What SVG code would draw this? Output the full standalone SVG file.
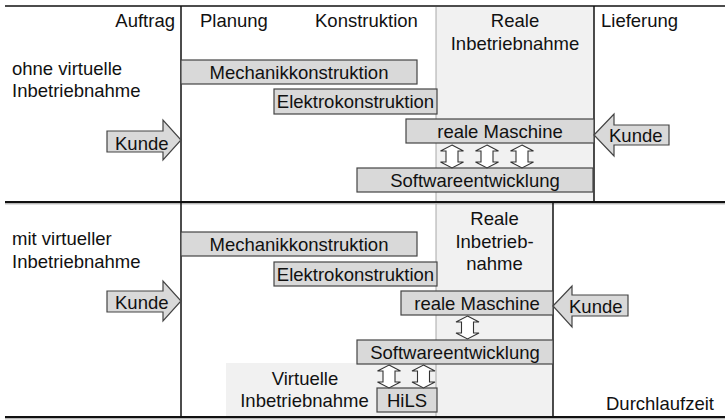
<svg xmlns="http://www.w3.org/2000/svg" width="726" height="420" viewBox="0 0 726 420">
<style>
text{font-family:"Liberation Sans",Arial,sans-serif;font-size:18.5px;fill:#111}
.m{text-anchor:middle}
.e{text-anchor:end}
.box{fill:#d9d9d9;stroke:#444;stroke-width:1.2}
.shade{fill:#f1f1f1}
.gl{stroke:#a8a8a8;stroke-width:1}
.bl{stroke:#111;stroke-width:1.5}
.kunde{fill:#d9d9d9;stroke:#444;stroke-width:1.2}
.dbl{fill:#fff;stroke:#333;stroke-width:1.1}
</style>
<defs>
<path id="darr" d="M0,0 L11.5,6 L6,6 L6,17 L11.5,17 L0,23 L-11.5,17 L-6,17 L-6,6 L-11.5,6 Z"/>
</defs>
<rect width="726" height="420" fill="#fff"/>
<g id="shading">
<rect class="shade" x="436" y="7" width="158" height="195"/>
<rect class="shade" x="436" y="204" width="117" height="212"/>
<rect class="shade" x="226" y="363" width="210" height="53"/>
<line class="gl" x1="436" y1="7" x2="436" y2="202"/>
<line class="gl" x1="436" y1="204" x2="436" y2="416"/>
</g>
<g id="frame">
<line class="bl" x1="5" y1="6" x2="725" y2="6"/>
<line x1="5" y1="202" x2="725" y2="202" stroke="#111" stroke-width="2"/>
<line x1="5" y1="203.8" x2="725" y2="203.8" stroke="#999" stroke-width="1"/>
<line x1="5" y1="417" x2="725" y2="417" stroke="#111" stroke-width="2"/>
<line x1="5" y1="418.8" x2="725" y2="418.8" stroke="#999" stroke-width="1"/>
<line class="bl" x1="181" y1="6" x2="181" y2="417"/>
<line class="bl" x1="594" y1="6" x2="594" y2="202"/>
<line class="bl" x1="553" y1="203" x2="553" y2="417"/>
</g>
<g id="headers">
<text class="e" x="175" y="27">Auftrag</text>
<text x="200" y="27">Planung</text>
<text x="315" y="27">Konstruktion</text>
<text class="m" x="515" y="27">Reale</text>
<text class="m" x="515" y="50">Inbetriebnahme</text>
<text x="601" y="27">Lieferung</text>
</g>
<g id="label-ohne">
<text x="12" y="75">ohne virtuelle</text>
<text x="12" y="97">Inbetriebnahme</text>
</g>
<g id="label-mit">
<text x="12" y="245">mit virtueller</text>
<text x="12" y="268">Inbetriebnahme</text>
</g>
<g id="mech1"><rect class="box" x="181" y="60" width="236" height="24"/><text class="m" x="299" y="78.5">Mechanikkonstruktion</text></g>
<g id="elektro1"><rect class="box" x="274" y="89" width="163" height="25"/><text class="m" x="355.5" y="108">Elektrokonstruktion</text></g>
<g id="maschine1"><rect class="box" x="406" y="119" width="188" height="24"/><text class="m" x="500" y="137.5">reale Maschine</text></g>
<g id="software1"><rect class="box" x="357" y="168" width="236" height="24"/><text class="m" x="475" y="186.5">Softwareentwicklung</text></g>
<g id="kunde1"><polygon class="kunde" points="107,131 163,131 163,120 181,140 163,160 163,152 107,152"/><text x="115" y="150">Kunde</text></g>
<g id="kunde2"><polygon class="kunde" points="594,135 614,114 614,125 669,125 669,145 614,145 614,156"/><text x="609" y="142">Kunde</text></g>
<g id="mech2"><rect class="box" x="181" y="232" width="236" height="24"/><text class="m" x="299" y="250.5">Mechanikkonstruktion</text></g>
<g id="elektro2"><rect class="box" x="274" y="262" width="163" height="24"/><text class="m" x="355.5" y="280.5">Elektrokonstruktion</text></g>
<g id="reale2">
<text class="m" x="494.5" y="225">Reale</text>
<text class="m" x="494.5" y="247.5">Inbetrieb-</text>
<text class="m" x="494.5" y="270">nahme</text>
</g>
<g id="maschine2"><rect class="box" x="401" y="291" width="152" height="24"/><text class="m" x="477" y="309.5">reale Maschine</text></g>
<g id="software2"><rect class="box" x="357" y="340" width="196" height="24"/><text class="m" x="455" y="358.5">Softwareentwicklung</text></g>
<g id="virtuell">
<text class="m" x="305" y="385">Virtuelle</text>
<text class="m" x="304.5" y="407">Inbetriebnahme</text>
</g>
<g id="hils"><rect class="box" x="377" y="388" width="60" height="24"/><text class="m" x="407" y="406.5">HiLS</text></g>
<g id="kunde3"><polygon class="kunde" points="107,291 163,291 163,281 181,301 163,321 163,312 107,312"/><text x="115" y="309">Kunde</text></g>
<g id="kunde4"><polygon class="kunde" points="553,306 572,286 572,295 628,295 628,316 572,316 572,327"/><text x="569" y="313">Kunde</text></g>
<g id="durchlaufzeit"><text x="606" y="410">Durchlaufzeit</text></g>
<g id="connectors">
<use href="#darr" class="dbl" x="452" y="145"/>
<use href="#darr" class="dbl" x="487" y="145"/>
<use href="#darr" class="dbl" x="522" y="145"/>
<use href="#darr" class="dbl" x="467.5" y="316"/>
<use href="#darr" class="dbl" x="389" y="365"/>
<use href="#darr" class="dbl" x="423.5" y="365"/>
</g>
</svg>
